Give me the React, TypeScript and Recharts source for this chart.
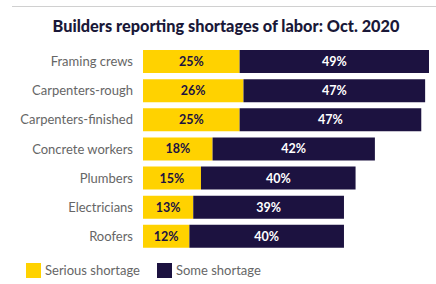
import { BarChart, Bar, XAxis, YAxis, LabelList } from 'recharts'

const trades = ['Framing crews', 'Carpenters-rough', 'Carpenters-finished', 'Concrete workers', 'Plumbers', 'Electricians', 'Roofers']
const serious = [25, 26, 25, 18, 15, 13, 12]
const some = [49, 47, 47, 42, 40, 39, 40]

const YELLOW = '#FFD200'
const NAVY = '#1C1240'
const FONT = 'Lato, "Open Sans", sans-serif'

const data = trades.map((t, i) => ({ trade: t, serious: serious[i], some: some[i] }))
const pct = (v: any) => `${v}%`

export default function App() {
  return (
    <div style={{ position: 'fixed', left: 0, top: 0, width: 436, height: 284, background: '#fff', fontFamily: FONT }}>
      <div style={{ position: 'absolute', left: 12, top: 6, width: 424, height: 1, background: '#d0d0d0' }} />
      <div style={{ position: 'absolute', left: 8, top: 16, width: 436, textAlign: 'center', fontSize: 16.3, fontWeight: 900, color: '#1a1838' }}>
        Builders reporting shortages of labor: Oct. 2020
      </div>
      <div style={{ position: 'absolute', left: 0, top: 0 }}>
        <BarChart width={436} height={284} data={data} layout="vertical" margin={{ top: 47, right: 7, bottom: 33, left: 0 }} barCategoryGap={3}>
          <XAxis type="number" hide domain={[0, 'dataMax']} />
          <YAxis type="category" dataKey="trade" width={143} axisLine={false} tickLine={false} tickSize={0} tickMargin={10}
            tick={{ fontSize: 13, fill: '#666', fontFamily: FONT }} interval={0} />
          <Bar dataKey="serious" stackId="a" fill={YELLOW} isAnimationActive={false}>
            <LabelList dataKey="serious" position="center" formatter={pct} fill={NAVY} fontSize={12.5} fontWeight={700} fontFamily={FONT} />
          </Bar>
          <Bar dataKey="some" stackId="a" fill={NAVY} isAnimationActive={false}>
            <LabelList dataKey="some" position="center" formatter={pct} fill="#fff" fontSize={12.5} fontWeight={700} fontFamily={FONT} />
          </Bar>
        </BarChart>
      </div>
      <div style={{ position: 'absolute', left: 26, top: 262, display: 'flex', alignItems: 'center', fontSize: 13, color: '#666' }}>
        <span style={{ width: 15, height: 15, background: YELLOW, marginRight: 4 }} />
        <span>Serious shortage</span>
        <span style={{ width: 15, height: 15, background: NAVY, marginLeft: 17, marginRight: 4 }} />
        <span>Some shortage</span>
      </div>
    </div>
  )
}
